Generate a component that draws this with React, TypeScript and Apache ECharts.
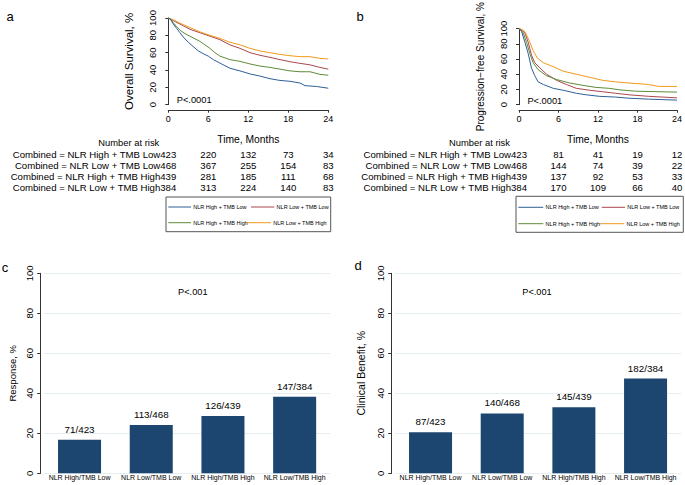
import React, { useEffect, useRef } from 'react';
import * as echarts from 'echarts';

const FONT = '"Liberation Sans", Arial, Helvetica, sans-serif';
const AXIS_COLOR = '#333333';
const GRID_COLOR = '#e6eef1';
const BAR_COLOR = '#1c466f';

const GROUPS = ['NLR High + TMB Low', 'NLR Low + TMB Low', 'NLR High + TMB High', 'NLR Low + TMB High'];
const GROUP_COLORS = ['#2f5f97', '#a9474f', '#5f8b37', '#f29a1c'];
const GROUP_N = [423, 468, 439, 384];

const RISK_TIMES = [6, 12, 18, 24];

// Kaplan-Meier curves, [month, percent]
const OS_HIGH_LOW = [[0, 100], [0.3, 99], [0.75, 93], [1.25, 88], [1.75, 83], [2.25, 78], [3, 72], [3.75, 67], [4.5, 62], [5.2, 59], [6, 56], [6.75, 52], [7.75, 48], [9.25, 42], [10.75, 39], [12.25, 35.5], [13.75, 33], [15.25, 30], [16.75, 28], [18.25, 27], [19.75, 25], [20.5, 22], [22.25, 21], [24, 19]];
const OS_LOW_LOW = [[0, 100], [0.75, 97], [1.75, 93], [2.5, 90], [3.25, 87], [4, 85], [4.75, 83], [6.25, 79], [7.75, 75], [9.25, 69], [10.75, 65], [12.25, 60], [13.75, 57], [15.25, 54.6], [16.75, 52], [18.25, 49.6], [19.75, 47.7], [21.25, 46], [22.75, 43], [24, 41]];
const OS_HIGH_HIGH = [[0, 100], [0.4, 98], [0.8, 94], [1.25, 90], [1.75, 86], [2.5, 82], [3.25, 79], [4, 76], [4.75, 73], [5.5, 69], [6.25, 65], [7, 60], [7.75, 56], [8.5, 54], [9.25, 52], [10.75, 50], [12.25, 47], [13.75, 44.6], [15.25, 43], [16.75, 41], [18.25, 39], [19.75, 38], [21.25, 38], [22.75, 35], [24, 34]];
const OS_LOW_HIGH = [[0, 100], [0.75, 98], [1.75, 94], [2.5, 91.5], [3.25, 89], [4, 86.5], [4.75, 84], [6.25, 80], [7.75, 76.5], [9.25, 72], [10.75, 69], [12.25, 65], [13.75, 62], [15.25, 60], [16.75, 58], [18.25, 56.5], [19.75, 55.4], [21.25, 55.4], [22.75, 53.5], [24, 52.7]];

const PFS_HIGH_LOW = [[0, 100], [0.4, 96], [0.9, 82], [1.4, 67], [1.9, 48], [2.4, 38], [2.9, 30], [3.7, 26.5], [5.2, 21.5], [6.7, 19], [8.7, 15], [10.2, 13], [12.2, 11], [14.7, 10], [16.7, 8.5], [19.7, 7.3], [24, 6]];
const PFS_LOW_LOW = [[0, 100], [0.4, 98], [0.9, 94], [1.4, 82], [1.9, 65], [2.4, 55], [3.2, 48], [4.2, 40], [5.7, 32], [7.2, 26.5], [8.7, 21.5], [10.7, 19], [12.7, 17], [14.7, 15], [16.7, 13], [19.7, 11], [24, 9]];
const PFS_HIGH_HIGH = [[0, 100], [0.3, 98], [0.65, 94], [1.15, 82], [1.65, 67], [2.15, 55], [2.9, 46], [4.2, 38], [5.7, 33], [7.7, 28.5], [9.7, 25.4], [11.7, 22.7], [13.7, 21.5], [15.2, 19.6], [17.7, 17.7], [24, 16.5]];
const PFS_LOW_HIGH = [[0, 100], [0.4, 99], [0.9, 96], [1.55, 84], [2.15, 71], [2.8, 61], [3.7, 55], [5.2, 50], [6.7, 44], [8.7, 40], [10.7, 36], [12.7, 32], [14.7, 30], [16.7, 28.5], [19.7, 26.5], [21.2, 24], [24, 24]];

const OS_CURVES = [OS_HIGH_LOW, OS_LOW_LOW, OS_HIGH_HIGH, OS_LOW_HIGH];
const PFS_CURVES = [PFS_HIGH_LOW, PFS_LOW_LOW, PFS_HIGH_HIGH, PFS_LOW_HIGH];

const OS_AT_RISK = [[220, 132, 73, 34], [367, 255, 154, 83], [281, 185, 111, 68], [313, 224, 140, 83]];
const PFS_AT_RISK = [[81, 41, 19, 12], [144, 74, 39, 22], [137, 92, 53, 33], [170, 109, 66, 40]];

const BAR_CATEGORIES = ['NLR High/TMB Low', 'NLR Low/TMB Low', 'NLR High/TMB High', 'NLR Low/TMB High'];
const RESPONSE_COUNTS = [71, 113, 126, 147];
const BENEFIT_COUNTS = [87, 140, 145, 182];
const BAR_TOTALS = [423, 468, 439, 384];

const txt = (text: string, x: number, y: number, size: number, align = 'left', extra: any = {}) => ({
  type: 'text',
  x,
  y,
  silent: true,
  style: {
    text,
    x: 0,
    y: 0,
    fill: '#000',
    font: `${size}px ${FONT}`,
    align,
    textAlign: align,
    verticalAlign: 'middle',
    textVerticalAlign: 'middle',
    ...extra,
  },
});

const kmXAxis = (gridIndex: number) => ({
  type: 'value',
  gridIndex,
  min: 0,
  max: 24,
  interval: 6,
  offset: 5.5,
  name: 'Time, Months',
  nameLocation: 'middle',
  nameGap: 24.5,
  nameTextStyle: { fontSize: 10.3, color: '#000', fontFamily: FONT },
  axisLine: { show: true, onZero: false, lineStyle: { color: AXIS_COLOR, width: 1 } },
  axisTick: { show: true, length: 2.5, lineStyle: { color: AXIS_COLOR } },
  axisLabel: { fontSize: 9, color: '#000', margin: 4.5, fontFamily: FONT },
  splitLine: { show: false },
});

const kmYAxis = (gridIndex: number, name: string, nameSize: number) => ({
  type: 'value',
  gridIndex,
  min: 0,
  max: 100,
  interval: 20,
  offset: 7.6,
  name,
  nameLocation: 'middle',
  nameRotate: 90,
  nameGap: 25.5,
  nameTextStyle: { fontSize: nameSize, color: '#000', fontFamily: FONT },
  axisLine: { show: true, lineStyle: { color: AXIS_COLOR, width: 1 } },
  axisTick: { show: true, length: 3, lineStyle: { color: AXIS_COLOR } },
  axisLabel: { rotate: 90, fontSize: 9.5, color: '#000', margin: 3, fontFamily: FONT },
  splitLine: { show: false },
});

const barXAxis = (gridIndex: number) => ({
  type: 'category',
  gridIndex,
  data: BAR_CATEGORIES,
  axisLine: { show: false },
  axisTick: { show: false },
  axisLabel: { interval: 0, fontSize: 7, color: '#000', margin: 0.5, fontFamily: FONT },
});

const barYAxis = (gridIndex: number, name: string, nameSize: number, nameGap: number) => ({
  type: 'value',
  gridIndex,
  min: 0,
  max: 100,
  interval: 20,
  offset: 3,
  name,
  nameLocation: 'middle',
  nameRotate: 90,
  nameGap,
  nameTextStyle: { fontSize: nameSize, color: '#000', fontFamily: FONT },
  axisLine: { show: true, lineStyle: { color: AXIS_COLOR, width: 1 } },
  axisTick: { show: true, length: 3.5, lineStyle: { color: AXIS_COLOR } },
  axisLabel: { rotate: 90, fontSize: 9.5, color: '#000', margin: 6, fontFamily: FONT },
  splitLine: { show: true, lineStyle: { color: GRID_COLOR, width: 1 } },
});

const kmSeries = (curves: number[][][], axisIndex: number) =>
  curves.map((data, i) => ({
    name: GROUPS[i],
    type: 'line',
    xAxisIndex: axisIndex,
    yAxisIndex: axisIndex,
    data,
    symbol: 'none',
    lineStyle: { color: GROUP_COLORS[i], width: 1 },
    itemStyle: { color: GROUP_COLORS[i] },
    z: i === 0 ? 5 : 4,
  }));

const barSeries = (counts: number[], axisIndex: number) => ({
  type: 'bar',
  xAxisIndex: axisIndex,
  yAxisIndex: axisIndex,
  data: counts.map((c, i) => (c / BAR_TOTALS[i]) * 100),
  barWidth: '60%',
  itemStyle: { color: BAR_COLOR },
  label: {
    show: true,
    position: 'top',
    distance: 5.5,
    fontSize: 9.8,
    color: '#000',
    fontFamily: FONT,
    formatter: (p: any) => `${counts[p.dataIndex]}/${BAR_TOTALS[p.dataIndex]}`,
  },
});

const option: any = {
  animation: false,
  backgroundColor: '#ffffff',
  textStyle: { fontFamily: FONT },
  grid: [
    { left: 168.3, top: 18, width: 160, height: 86.7 },
    { left: 519, top: 18, width: 159.3, height: 86.7 },
    { left: 43.7, top: 273.3, width: 286.8, height: 200 },
    { left: 394.7, top: 273.3, width: 286.7, height: 200 },
  ],
  xAxis: [kmXAxis(0), kmXAxis(1), barXAxis(2), barXAxis(3)],
  yAxis: [
    kmYAxis(0, 'Overall Survival, %', 11.5),
    kmYAxis(1, 'Progression\u2212free Survival, %', 10),
    barYAxis(2, 'Response, %', 9.5, 23.5),
    barYAxis(3, 'Clinical Benefit, %', 10.5, 25),
  ],
  series: [...kmSeries(OS_CURVES, 0), ...kmSeries(PFS_CURVES, 1), barSeries(RESPONSE_COUNTS, 2), barSeries(BENEFIT_COUNTS, 3)],
};

// risk table, p-value and legend box below each KM panel
const kmExtras = (chart: echarts.ECharts, idx: number, atRisk: number[][], legendCols: number[][]) => {
  const px = (t: number, v: number) => chart.convertToPixel({ xAxisIndex: idx, yAxisIndex: idx }, [t, v]) as number[];
  const x0 = px(0, 0)[0];
  const els: any[] = [];
  els.push(txt('P<.0001', x0 + 8.4, px(0, 5.3)[1], 9.3));
  els.push(txt('Number at risk', x0 - 39.5, 142, 9.4, 'center'));
  const rowY = [154.3, 165.5, 176.6, 187.5];
  atRisk.forEach((row, r) => {
    els.push(txt(`Combined = ${GROUPS[r]}${GROUP_N[r]}`, x0 + 8, rowY[r], 9.6, 'right'));
    row.forEach((n, k) => {
      els.push(txt(String(n), px(RISK_TIMES[k], 0)[0], rowY[r], 9.6, 'center'));
    });
  });
  // legend
  const box = idx === 0 ? [166, 197, 164.7, 34.7] : [516, 196.3, 167.3, 36];
  els.push({
    type: 'rect',
    silent: true,
    shape: { x: box[0], y: box[1], width: box[2], height: box[3] },
    style: { fill: '#fff', stroke: '#555', lineWidth: 1 },
  });
  const rows = idx === 0 ? [207, 222.7] : [207.3, 223.7];
  legendCols.forEach((c, i) => {
    const y = rows[Math.floor(i / 2)];
    els.push({
      type: 'line',
      silent: true,
      shape: { x1: c[0], y1: y, x2: c[1], y2: y },
      style: { stroke: GROUP_COLORS[i], lineWidth: 1 },
    });
    els.push(txt(GROUPS[i], c[1] + 2.3, y, 5.5));
  });
  return els;
};

const App = (): JSX.Element => {
  const divEL = useRef<HTMLDivElement>(null);

  useEffect(() => {
    const instance = echarts.init(divEL.current as HTMLDivElement, undefined, { renderer: 'svg' });
    instance.setOption(option);

    const graphics: any[] = [
      ...kmExtras(instance, 0, OS_AT_RISK, [[168.3, 191], [251, 274.3], [168.3, 191], [246.7, 271]]),
      ...kmExtras(instance, 1, PFS_AT_RISK, [[518.3, 543.3], [601.7, 625], [518.3, 543.3], [600, 624.3]]),
      txt('a', 10, 16.5, 13, 'center'),
      txt('b', 360, 16.5, 13, 'center'),
      txt('c', 5, 267, 13, 'center'),
      txt('d', 358, 265, 13, 'center'),
      txt('P<.001', 192.8, 292, 9.2, 'center'),
      txt('P<.001', 537, 292, 9.2, 'center'),
    ];
    instance.setOption({ graphic: graphics });

    return () => {
      instance.dispose();
    };
  }, []);

  return (
    <div
      ref={divEL}
      style={{ position: 'fixed', left: 0, top: 0, width: 685, height: 485, background: '#fff' }}
    ></div>
  );
};

export default App;
